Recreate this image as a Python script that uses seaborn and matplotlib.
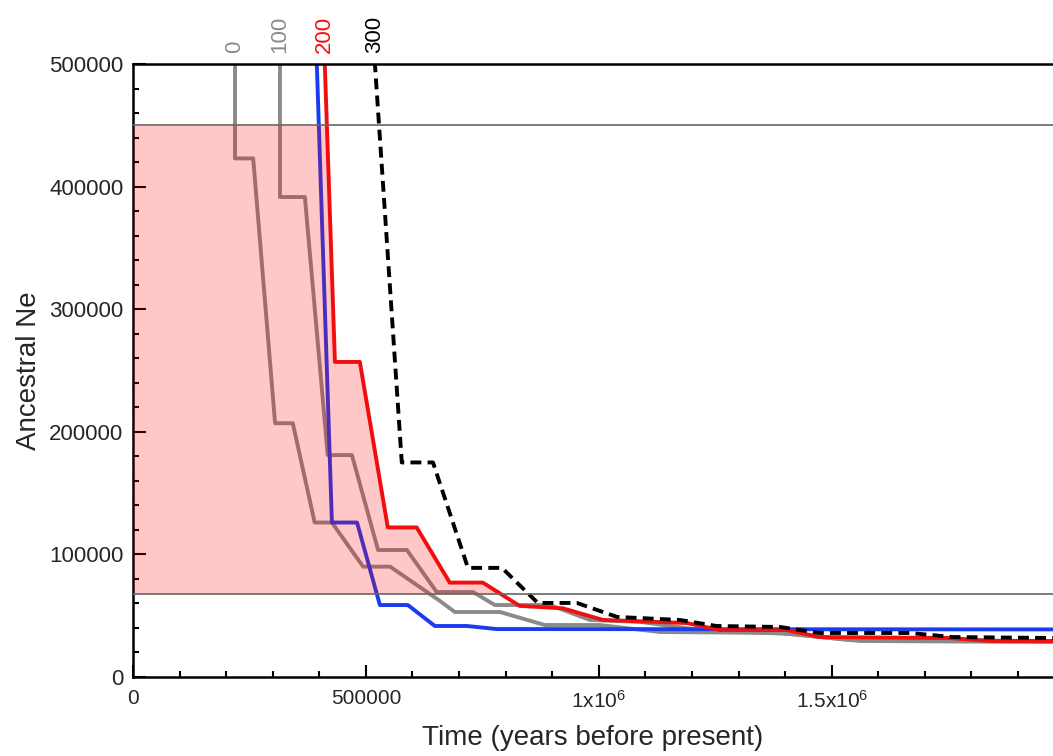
import matplotlib

matplotlib.use("Agg")
import matplotlib.pyplot as plt
import matplotlib.ticker as mticker
import numpy as np
import pandas as pd
import seaborn as sns

# step curves: time (years before present) vs ancestral Ne
t_0 = [219000, 219000, 258000, 305000, 343000, 390000, 427000, 494000, 552000,
       659000, 691000, 788000, 884000, 1002000, 1131000, 1389000, 1539000, 1975000]
ne_0 = [560000, 423000, 423000, 207000, 207000, 126000, 126000, 90000, 90000,
        62000, 53000, 53000, 42400, 42400, 36700, 35900, 30200, 29400]

t_100 = [315500, 315500, 369000, 418000, 470000, 526000, 588000, 652000, 730000,
         777000, 895000, 981000, 1088000, 1217000, 1410000, 1560000, 1975000]
ne_100 = [560000, 391500, 391500, 181000, 181000, 103600, 103600, 69300, 69300,
          58700, 58700, 46500, 45000, 38300, 35100, 29400, 28500]

t_ref = [392000, 427000, 481000, 530000, 590000, 648000, 717000, 781000, 1975000]
ne_ref = [530000, 126000, 126000, 58700, 58700, 41600, 41600, 39100, 38800]

t_200 = [409000, 433500, 487000, 547000, 609000, 680000, 751000, 830000, 923000,
         1009000, 1189000, 1260000, 1403000, 1474000, 1753000, 1839000, 1975000]
ne_200 = [530000, 257000, 257000, 122000, 122000, 77000, 77000, 58000, 56000,
          46500, 44000, 38300, 38300, 32600, 31800, 29400, 29400]

t_300 = [514000, 577000, 644000, 719000, 792000, 869000, 953000, 1039000, 1174000,
         1253000, 1389000, 1474000, 1668000, 1760000, 1975000]
ne_300 = [530000, 175000, 175000, 89000, 89000, 60400, 60400, 49000, 46500,
          41600, 40800, 35900, 35900, 32600, 31800]

series_names = ["0", "100", "ref", "200", "300"]
top_labels = ["0", "100", "200", "300"]
band_low, band_high = 68000, 450000

x_ticks = [0, 500000, 1000000, 1500000]
x_ticklabels = ["0", "500000", r"1x10$^{6}$", r"1.5x10$^{6}$"]
y_ticks = [0, 100000, 200000, 300000, 400000, 500000]

colors = {"0": "#8a8a8a", "100": "#8a8a8a", "ref": "#1a3cf0", "200": "#f01010", "300": "black"}
dashes = {"0": "", "100": "", "ref": "", "200": "", "300": (2.8, 1.6)}

data = {"0": (t_0, ne_0), "100": (t_100, ne_100), "ref": (t_ref, ne_ref),
        "200": (t_200, ne_200), "300": (t_300, ne_300)}
df = pd.concat([pd.DataFrame({"series": k, "t": data[k][0], "ne": data[k][1]})
                for k in series_names], ignore_index=True)

sns.set_style("white")
plt.rcParams["font.family"] = ["Liberation Sans", "DejaVu Sans"]
plt.rcParams["mathtext.fontset"] = "custom"
plt.rcParams["mathtext.rm"] = "Liberation Sans"
plt.rcParams["mathtext.it"] = "Liberation Sans"
plt.rcParams["xtick.direction"] = "in"
plt.rcParams["ytick.direction"] = "in"

fig = plt.figure(figsize=(10.53, 7.56), dpi=100)
ax = fig.add_axes([133 / 1053, 79 / 756, 920 / 1053, 613 / 756])

sns.lineplot(data=df, x="t", y="ne", hue="series", style="series", hue_order=series_names,
             style_order=series_names, palette=colors, dashes=dashes, sort=False,
             estimator=None, linewidth=2.8, legend=False, ax=ax, zorder=2)

xmax = 1975000
# pink band: left of the "200" curve, between the two reference lines
grid = np.linspace(0, xmax, 3000)
upper = np.clip(np.interp(grid, t_200, ne_200, left=ne_200[0]), band_low, band_high)
ax.fill_between(grid, band_low, upper, color="red", alpha=0.22, lw=0, zorder=3)
for yv in (band_low, band_high):
    ax.axhline(yv, color="#666666", lw=1.2, zorder=4)

for name in top_labels:
    ts = data[name][0]
    x0 = ts[0] if name in ("0", "100") else np.interp(500000, data[name][1][::-1], ts[::-1])
    ax.text(x0, 1.018, name, transform=ax.get_xaxis_transform(), rotation=90,
            ha="center", va="bottom", fontsize=16, color=colors[name])

ax.set_xlim(0, xmax)
ax.set_ylim(0, 500000)
ax.set_xticks(x_ticks)
ax.set_xticklabels(x_ticklabels, fontsize=15)
ax.set_yticks(y_ticks)
ax.set_yticklabels([str(v) for v in y_ticks], fontsize=16)
ax.xaxis.set_minor_locator(mticker.MultipleLocator(100000))
ax.yaxis.set_minor_locator(mticker.MultipleLocator(20000))
ax.tick_params(which="both", direction="in", width=1.5, color="black", top=False, right=False,
               bottom=True, left=True)
ax.tick_params(which="major", length=9)
ax.tick_params(which="minor", length=4.5)
ax.tick_params(axis="x", pad=9)
ax.tick_params(axis="y", pad=7)
for side in ("left", "bottom", "top"):
    ax.spines[side].set_color("black")
    ax.spines[side].set_linewidth(1.8)
ax.spines["right"].set_visible(False)

ax.set_xlabel("Time (years before present)", fontsize=20, labelpad=10)
ax.set_ylabel("Ancestral Ne", fontsize=20, labelpad=5)

fig.savefig("out.png", dpi=100)
